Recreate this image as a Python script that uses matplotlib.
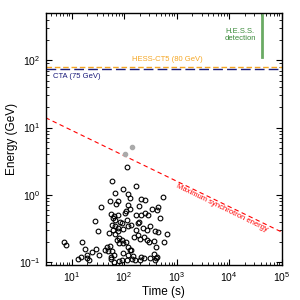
import matplotlib
matplotlib.use("Agg")
import matplotlib.pyplot as plt

plt.rcParams['font.family'] = ['Liberation Sans', 'DejaVu Sans']

# Detected photons (time in s, energy in GeV)
t_pts = [59, 172, 97, 119, 132, 67, 211, 248, 54, 77, 70, 36, 116, 130, 109, 191,
         57, 64, 61, 68, 77, 83, 92, 169, 208, 248, 288, 343, 422, 28, 32, 180, 196,
         104, 111, 59, 67, 76, 62, 52, 78, 68, 97, 121, 134, 165, 228, 272, 314, 391,
         434, 72, 81, 90, 79, 97, 109, 121, 134, 47, 54, 44, 50, 60, 56, 56, 63, 155,
         180, 202, 241, 272, 292, 364, 409, 7.1, 7.9, 15.5, 18, 24, 20, 29, 13.4, 15,
         20, 21, 33, 97, 116, 130, 147, 140, 162, 208, 202, 241, 314, 391, 422, 111,
         93, 81, 64, 557, 447, 490, 660, 575, 372, 410, 115]
e_pts = [1.6, 1.35, 1.21, 1.02, 0.90, 1.05, 0.88, 0.85, 0.80, 0.80, 0.72, 0.65, 0.71,
         0.61, 0.57, 0.69, 0.52, 0.49, 0.45, 0.43, 0.51, 0.39, 0.38, 0.50, 0.50, 0.54,
         0.51, 0.62, 0.60, 0.41, 0.29, 0.38, 0.40, 0.54, 0.43, 0.36, 0.34, 0.32, 0.30,
         0.27, 0.29, 0.26, 0.31, 0.34, 0.36, 0.30, 0.32, 0.30, 0.34, 0.29, 0.28, 0.215,
         0.23, 0.215, 0.19, 0.19, 0.20, 0.17, 0.153, 0.17, 0.175, 0.153, 0.144, 0.148,
         0.121, 0.113, 0.129, 0.24, 0.25, 0.22, 0.236, 0.215, 0.196, 0.203, 0.17, 0.196,
         0.179, 0.199, 0.156, 0.143, 0.129, 0.156, 0.111, 0.119, 0.117, 0.108, 0.126,
         0.139, 0.129, 0.149, 0.124, 0.113, 0.108, 0.121, 0.108, 0.117, 0.117, 0.108,
         0.119, 0.108, 0.106, 0.103, 0.101, 0.94, 0.65, 0.46, 0.26, 0.20, 0.13, 0.116, 2.6]

# gray points
t_gray = [142, 104]
e_gray = [5.1, 4.0]

# maximum synchrotron energy line
sync_t = [3.2, 1e5]
sync_e = [14, 0.28]

cta_e = 75
hess_ct5_e = 80

hess_t = 42000
hess_e = [112, 475]

fig = plt.figure(figsize=(3, 3), dpi=100)
ax = fig.add_axes([0.152, 0.117, 0.787, 0.839])
ax.set_xscale('log')
ax.set_yscale('log')
ax.set_xlim(3.2, 1e5)
ax.set_ylim(0.091, 500)

ax.axhline(hess_ct5_e, color='#f5a623', ls=(0, (4, 2)), lw=1)
ax.axhline(cta_e, color='#1a1a7a', ls=(0, (7, 3)), lw=1)
ax.text(0.666, hess_ct5_e * 1.15, 'HESS-CT5 (80 GeV)', color='#f5a623', fontsize=5.5,
        ha='right', va='bottom', transform=ax.get_yaxis_transform())
ax.text(0.03, cta_e * 0.86, 'CTA (75 GeV)', color='#1a1a7a', fontsize=5.5,
        ha='left', va='top', transform=ax.get_yaxis_transform())

ax.plot(sync_t, sync_e, color='red', ls=(0, (4, 3)), lw=0.8)
ax.text(7400, 0.63, 'Maximum synchrotron energy', color='red', fontsize=5.5,
        rotation=-26, ha='center', va='center', rotation_mode='anchor')

ax.plot([hess_t, hess_t], hess_e, color='#6aaa64', lw=2)
ax.text(1.6e4, 235, 'H.E.S.S.\ndetection', color='#3a8a3a', fontsize=5.5,
        ha='center', va='center', linespacing=1.0)

ax.plot(t_pts, e_pts, 'o', mfc='none', mec='black', mew=0.8, ms=3.4)
ax.plot(t_gray, e_gray, 'o', color='#aaaaaa', ms=3)

ax.tick_params(which='both', direction='in', top=True, right=True, labelsize=7.5)
ax.tick_params(which='major', length=4)
ax.tick_params(which='minor', length=2)
ax.set_xlabel('Time (s)', fontsize=8.5, labelpad=2)
ax.set_ylabel('Energy (GeV)', fontsize=8.5, labelpad=1)
for s in ax.spines.values():
    s.set_linewidth(1)

fig.savefig('out.png', dpi=100)
